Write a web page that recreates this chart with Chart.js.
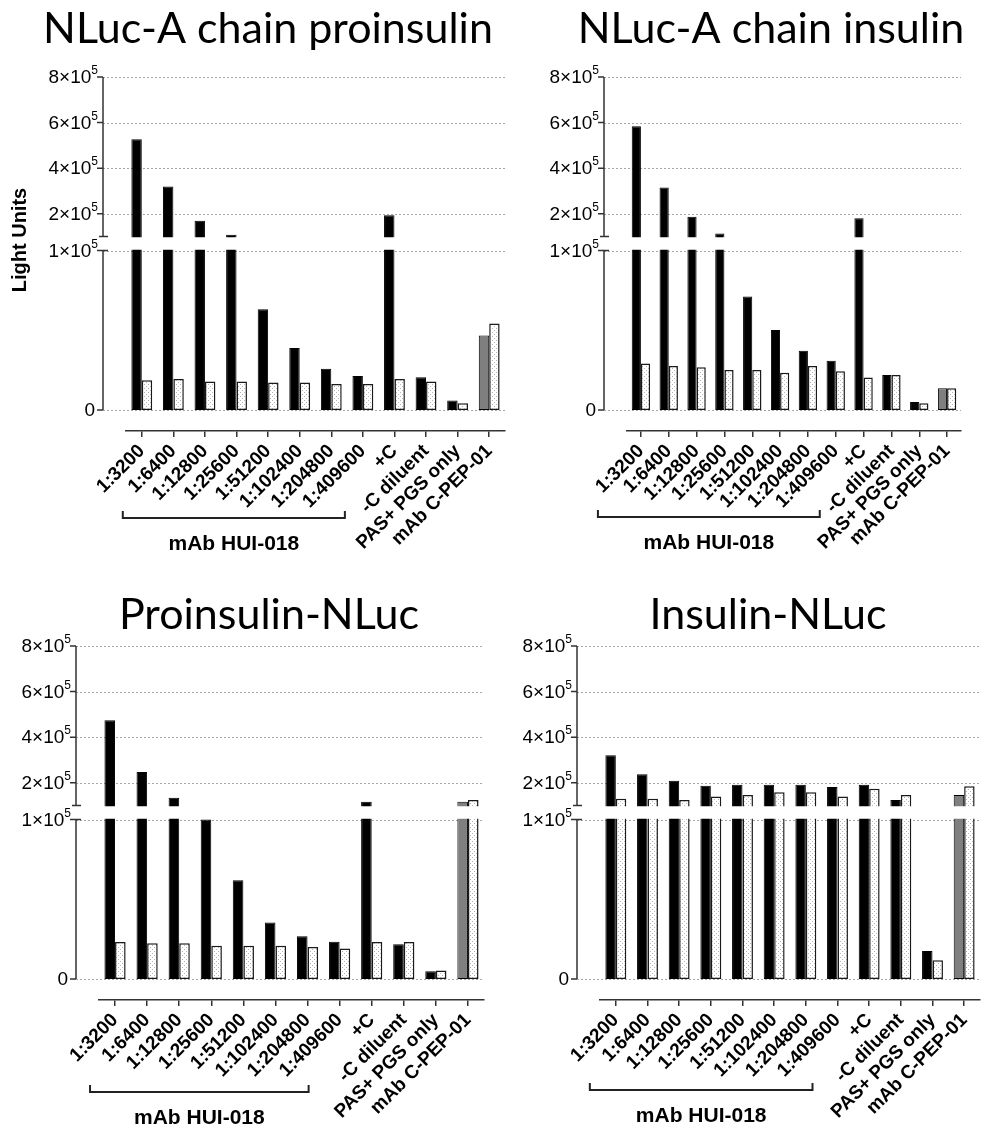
<!DOCTYPE html>
<html>
<head>
<meta charset="utf-8">
<script src="https://cdn.jsdelivr.net/npm/chart.js@4.4.1/dist/chart.umd.min.js"></script>
<style>
  body { margin: 0; background: #fff; }
  #wrap { position: relative; width: 984px; height: 1129px; overflow: hidden; background: #fff; }
  #wrap canvas { position: absolute; }
</style>
</head>
<body>
<div id="wrap">
  <canvas id="c1" width="520" height="565" style="left:0;top:0"></canvas>
  <canvas id="c2" width="492" height="565" style="left:492px;top:0"></canvas>
  <canvas id="c3" width="520" height="564" style="left:0;top:565px"></canvas>
  <canvas id="c4" width="492" height="564" style="left:492px;top:565px"></canvas>
</div>
<script>
// data
const categories = ['1:3200', '1:6400', '1:12800', '1:25600', '1:51200', '1:102400', '1:204800', '1:409600',
  '+C', '-C diluent', 'PAS+ PGS only', 'mAb C-PEP-01'];
const yTickValues = [0, 100000, 200000, 400000, 600000, 800000];
const breakValue = 100000;
const yMax = 800000;

// NLuc-A chain proinsulin
const aProSolid = [527000, 319000, 169000, 108000, 63200, 38900, 25900, 21300, 193000, 20500, 5900, 46700];
const aProDotted = [18600, 19500, 17800, 17800, 17200, 17200, 16300, 16300, 19500, 17800, 4200, 54200];
// NLuc-A chain insulin
const aInsSolid = [584000, 315000, 187000, 113000, 71100, 50200, 37200, 30800, 180000, 22000, 5000, 13600];
const aInsDotted = [29100, 27600, 26800, 25100, 25100, 23400, 27600, 24300, 20300, 22000, 4200, 13600];
// Proinsulin-NLuc
const proNSolid = [474000, 247000, 134000, 100000, 61900, 35400, 26800, 23400, 117000, 21800, 4800, 117000];
const proNDotted = [23200, 22400, 22400, 20900, 20900, 20900, 20100, 19200, 23200, 23200, 5400, 124000];
// Insulin-NLuc
const insNSolid = [320000, 237000, 209000, 187000, 191000, 191000, 191000, 181000, 191000, 124000, 17600, 146000];
const insNDotted = [130000, 130000, 124000, 140000, 146000, 158000, 158000, 140000, 174000, 146000, 11700, 185000];

const FONT = "'Liberation Sans', Arial, sans-serif";
Chart.defaults.font.family = FONT;
Chart.defaults.color = '#000';

const Z_PAD = 21;   // zero line sits above the offset x axis
const GAP = 14;     // height of the axis break

// linear scale with a break at breakValue
class BrokenScale extends Chart.LinearScale {
  static id = 'broken';
  static defaults = {};
  segs() {
    const zero = this.bottom - Z_PAD;
    const lowH = (this.bottom - this.top - Z_PAD - GAP) / 2;
    const lowTop = zero - lowH;
    return { zero, lowTop, highBottom: lowTop - GAP, top: this.top };
  }
  getPixelForValue(value) {
    const s = this.segs();
    if (value <= breakValue) return s.zero - value / breakValue * (s.zero - s.lowTop);
    return s.highBottom - (value - breakValue) / (this.max - breakValue) * (s.highBottom - s.top);
  }
  getValueForPixel(pixel) {
    const s = this.segs();
    if (pixel >= s.lowTop) return (s.zero - pixel) / (s.zero - s.lowTop) * breakValue;
    return breakValue + (s.highBottom - pixel) / (s.highBottom - s.top) * (this.max - breakValue);
  }
}
Chart.register(BrokenScale);

function makeDots() {
  const c = document.createElement('canvas');
  c.width = 4; c.height = 4;
  const g = c.getContext('2d');
  g.fillStyle = '#fff'; g.fillRect(0, 0, 4, 4);
  g.fillStyle = '#b4b4b4'; g.fillRect(0, 0, 1, 1); g.fillRect(2, 2, 1, 1);
  return g.createPattern(c, 'repeat');
}
const dotPattern = makeDots();

const AXIS_OFFSET = 23;

const brokenAxis = {
  id: 'brokenAxis',
  beforeDatasetsDraw(chart) {
    const y = chart.scales.y, area = chart.chartArea, ctx = chart.ctx;
    const axisX = area.left - AXIS_OFFSET;
    ctx.save();
    ctx.strokeStyle = '#a6a6a6';
    ctx.lineWidth = 1;
    ctx.setLineDash([2, 2]);
    y.ticks.forEach(t => {
      const py = Math.round(y.getPixelForValue(t.value)) + 0.5;
      ctx.beginPath(); ctx.moveTo(axisX, py); ctx.lineTo(area.right, py); ctx.stroke();
    });
    ctx.restore();
  },
  afterDatasetsDraw(chart, args, opts) {
    const y = chart.scales.y, x = chart.scales.x, area = chart.chartArea, ctx = chart.ctx;
    const s = y.segs();
    const axisX = area.left - AXIS_OFFSET;
    ctx.save();
    // cut the bars at the break
    ctx.fillStyle = '#fff';
    ctx.fillRect(area.left - 2, s.highBottom + 0.75, area.right - area.left + 4, s.lowTop - s.highBottom - 1.5);

    // y axis in two pieces
    ctx.strokeStyle = '#333';
    ctx.lineWidth = 1.5;
    ctx.beginPath();
    ctx.moveTo(axisX, y.getPixelForValue(yMax)); ctx.lineTo(axisX, s.highBottom);
    ctx.moveTo(axisX - 4, s.highBottom); ctx.lineTo(axisX + 5, s.highBottom);
    ctx.moveTo(axisX, s.lowTop); ctx.lineTo(axisX, s.zero);
    ctx.moveTo(axisX - 4, s.lowTop); ctx.lineTo(axisX + 5, s.lowTop);
    y.ticks.forEach(t => {
      const py = y.getPixelForValue(t.value);
      ctx.moveTo(axisX - 6, py); ctx.lineTo(axisX, py);
    });
    ctx.stroke();

    // y tick labels with a raised exponent
    ctx.fillStyle = '#000';
    ctx.textAlign = 'right';
    ctx.textBaseline = 'middle';
    y.ticks.forEach(t => {
      const py = y.getPixelForValue(t.value);
      if (t.value === 0) {
        ctx.font = '19px ' + FONT;
        ctx.fillText('0', axisX - 8, py + 1);
        return;
      }
      ctx.font = '12px ' + FONT;
      const supW = ctx.measureText('5').width;
      ctx.fillText('5', axisX - 5, py - 6);
      ctx.font = '19px ' + FONT;
      ctx.fillText((t.value / 100000) + '×10', axisX - 5 - supW, py + 1);
    });

    // bracket under the antibody dilutions
    const bx0 = x.getPixelForTick(0) + opts.bracket[0];
    const bx1 = x.getPixelForTick(7) + opts.bracket[1];
    const by = area.bottom + opts.bracketDy;
    ctx.strokeStyle = '#222';
    ctx.lineWidth = 2;
    ctx.beginPath();
    ctx.moveTo(bx0, by - 7); ctx.lineTo(bx0, by); ctx.lineTo(bx1, by); ctx.lineTo(bx1, by - 7);
    ctx.stroke();
    ctx.font = 'bold 21px ' + FONT;
    ctx.textAlign = 'center';
    ctx.fillText('mAb HUI-018', (bx0 + bx1) / 2, by + 26);

    if (opts.yTitle) {
      ctx.save();
      ctx.translate(20, 240);
      ctx.rotate(-Math.PI / 2);
      ctx.font = 'bold 20px ' + FONT;
      ctx.fillText(opts.yTitle, 0, 0);
      ctx.restore();
    }
    ctx.restore();
  },
  afterDraw(chart, args, opts) {
    const ctx = chart.ctx;
    ctx.save();
    ctx.fillStyle = '#000';
    ctx.font = "43px Lato, 'Noto Sans', sans-serif";
    ctx.textAlign = 'center';
    ctx.textBaseline = 'alphabetic';
    ctx.fillText(opts.title, opts.titleX, opts.titleY);
    ctx.restore();
  }
};

function makeChart(id, solid, dotted, p) {
  return new Chart(document.getElementById(id), {
    type: 'bar',
    data: {
      labels: categories,
      datasets: [
        {
          data: solid,
          backgroundColor: categories.map((c, i) => i === categories.length - 1 ? '#7f7f7f' : '#000'),
          borderColor: '#000',
          borderWidth: 1,
          borderSkipped: false
        },
        {
          data: dotted,
          backgroundColor: dotPattern,
          borderColor: '#1a1a1a',
          borderWidth: 1.5,
          borderSkipped: false
        }
      ]
    },
    options: {
      responsive: false,
      animation: false,
      events: [],
      categoryPercentage: 0.66,
      barPercentage: 1.0,
      layout: { padding: { top: p.padTop, right: p.padRight, left: 0, bottom: 0 } },
      plugins: {
        legend: { display: false },
        tooltip: { enabled: false },
        brokenAxis: p
      },
      scales: {
        x: {
          type: 'category',
          offset: true,
          grid: { offset: false, drawOnChartArea: false, color: '#333', lineWidth: 1.5, tickLength: 6 },
          border: { color: '#333', width: 1.5 },
          ticks: {
            autoSkip: false, minRotation: 45, maxRotation: 45, padding: 3,
            font: { size: 19, weight: 'bold' }, color: '#000'
          },
          afterFit(scale) { scale.height = p.xHeight; }
        },
        y: {
          type: 'broken',
          min: 0,
          max: yMax,
          grid: { display: false, drawTicks: false },
          border: { display: false },
          ticks: { display: false },
          afterBuildTicks(scale) { scale.ticks = yTickValues.map(v => ({ value: v })); },
          afterFit(scale) { scale.width = p.yWidth; }
        }
      }
    },
    plugins: [brokenAxis]
  });
}

makeChart('c1', aProSolid, aProDotted, {
  title: 'NLuc-A chain proinsulin', titleX: 268, titleY: 43, yTitle: 'Light Units',
  padTop: 77, padRight: 15, yWidth: 126, xHeight: 134, bracket: [-19, -18], bracketDy: 87
});
makeChart('c2', aInsSolid, aInsDotted, {
  title: 'NLuc-A chain insulin', titleX: 279, titleY: 43,
  padTop: 77, padRight: 23, yWidth: 135, xHeight: 134, bracket: [-43, -16], bracketDy: 86
});
makeChart('c3', proNSolid, proNDotted, {
  title: 'Proinsulin-NLuc', titleX: 269, titleY: 64,
  padTop: 81, padRight: 36, yWidth: 99, xHeight: 129, bracket: [-25, -31], bracketDy: 92
});
makeChart('c4', insNSolid, insNDotted, {
  title: 'Insulin-NLuc', titleX: 276, titleY: 64,
  padTop: 81, padRight: 4, yWidth: 108, xHeight: 129, bracket: [-26, -25], bracketDy: 90
});
</script>
</body>
</html>
